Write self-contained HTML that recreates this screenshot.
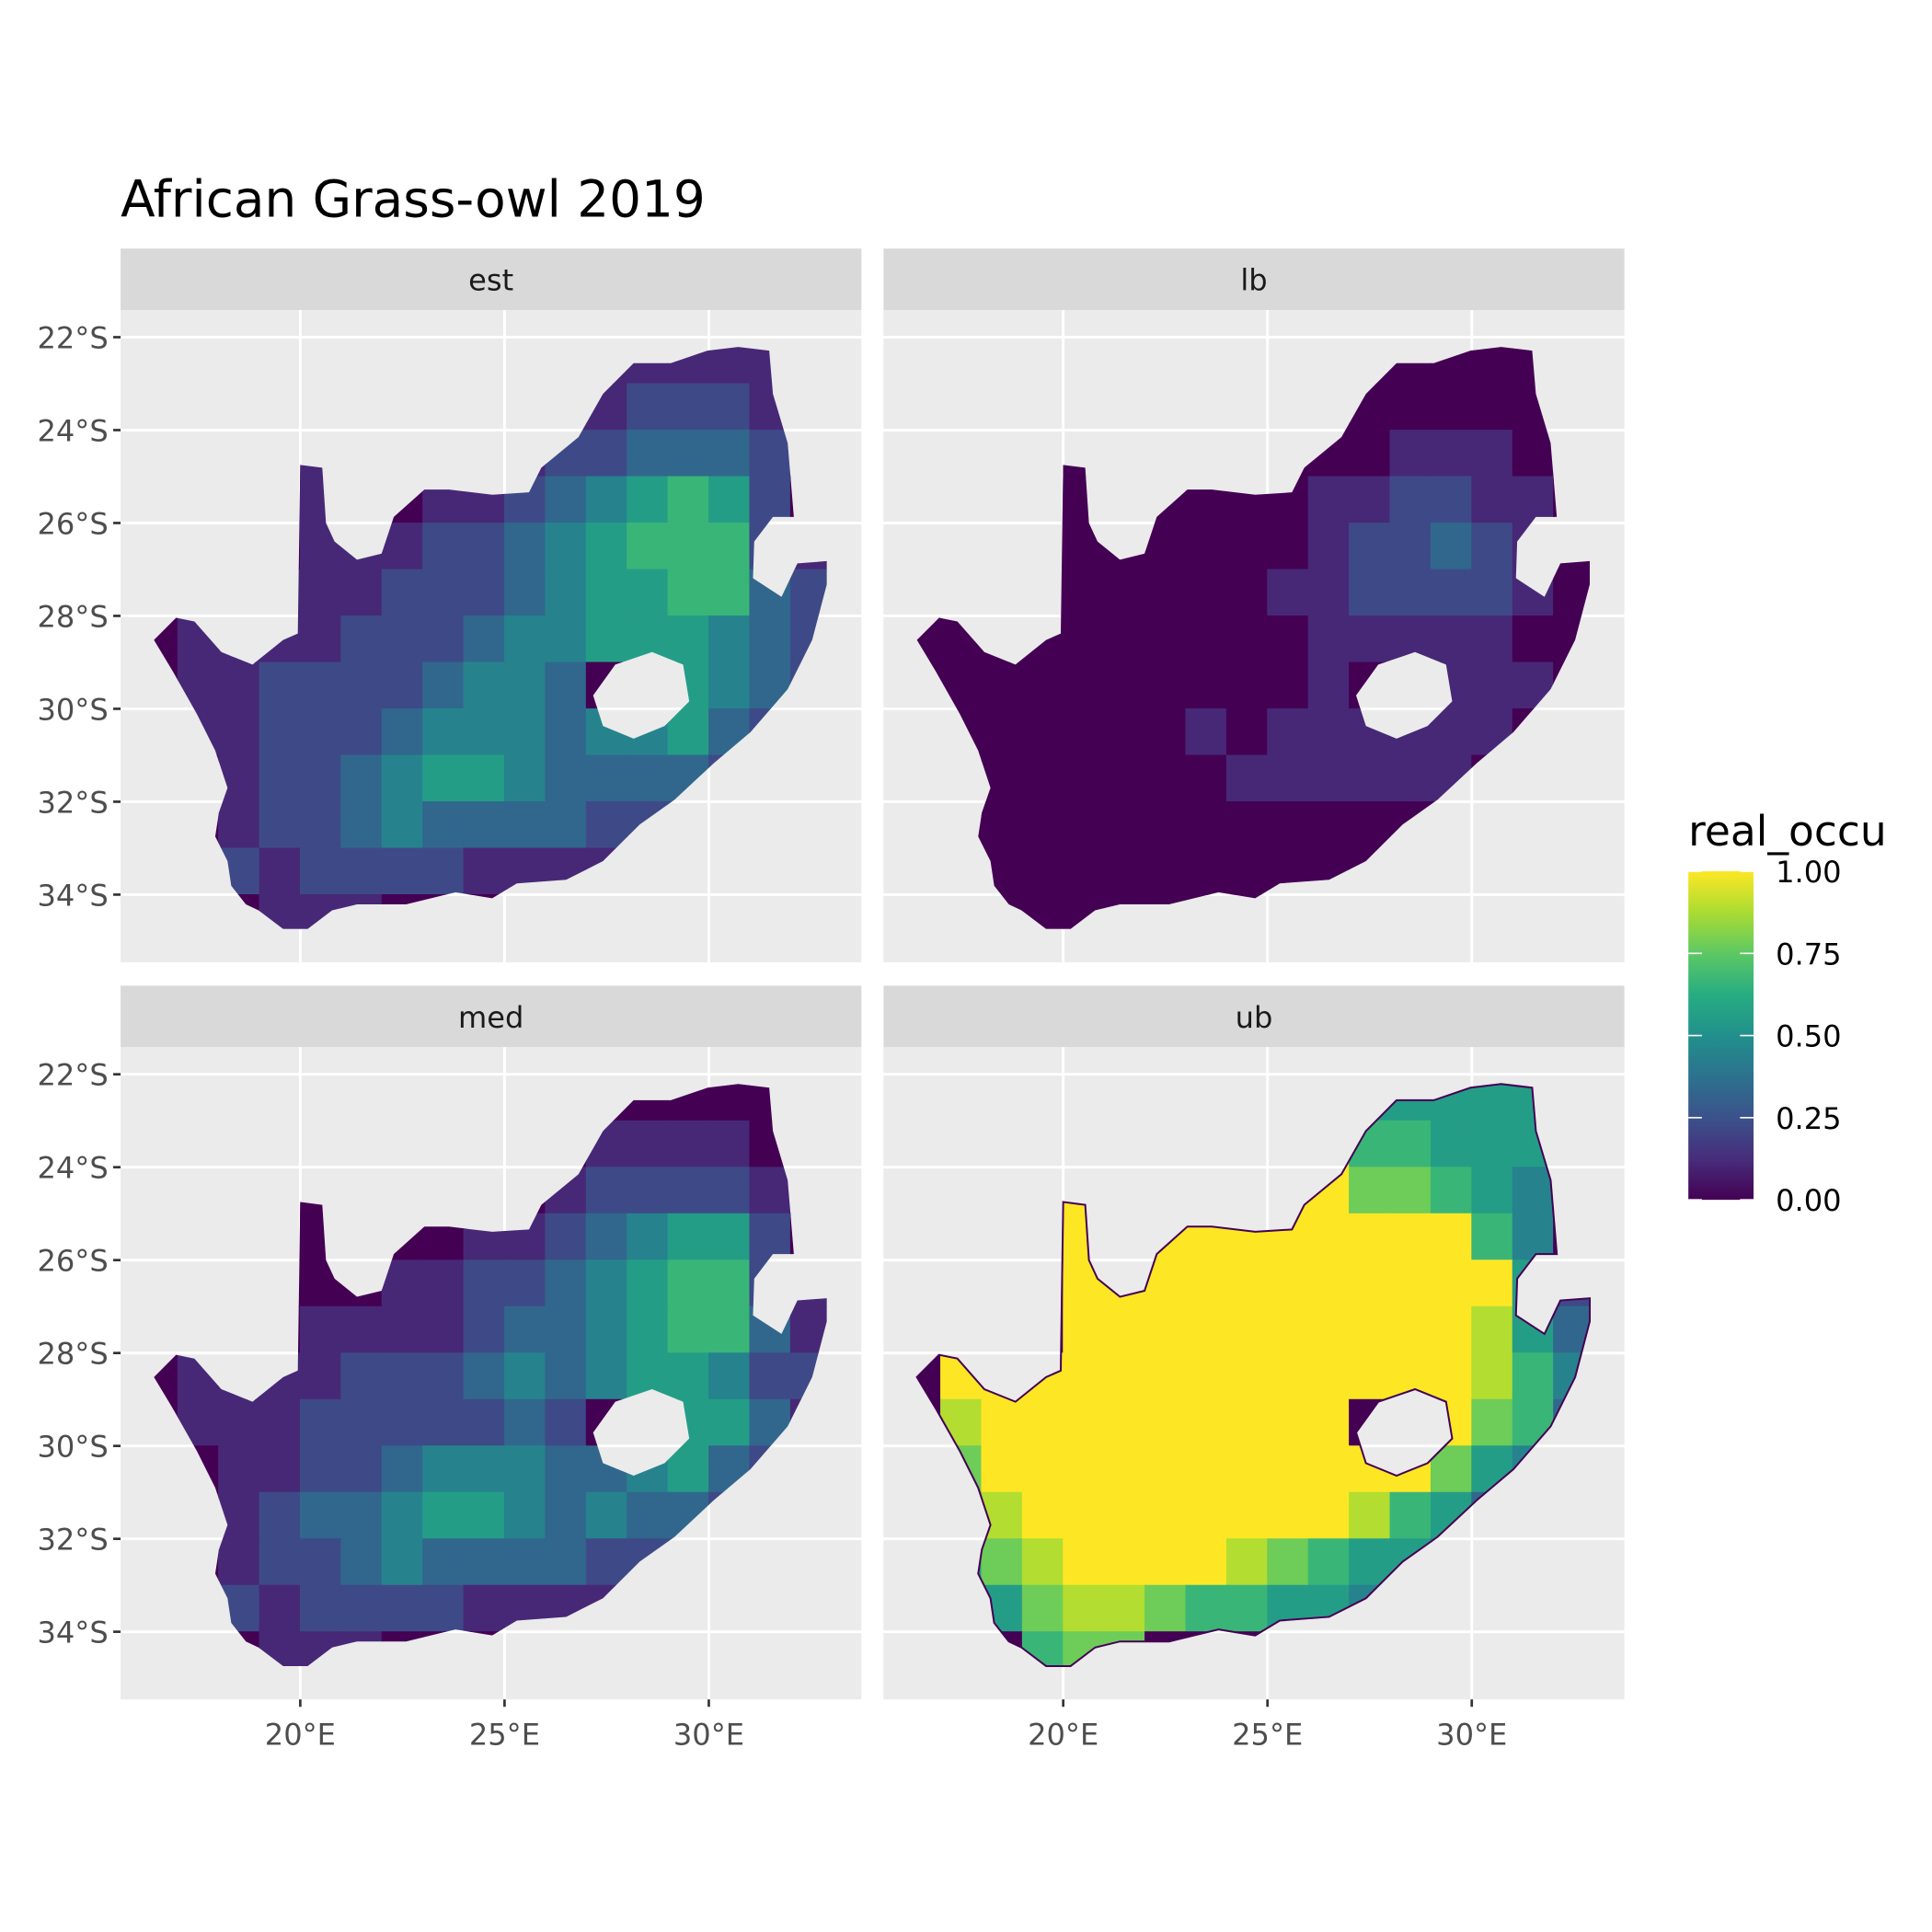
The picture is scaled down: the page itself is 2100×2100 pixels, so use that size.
<!DOCTYPE html>
<html><head><meta charset="utf-8"><style>
html,body{margin:0;padding:0;background:#fff}
svg{display:block}
text{font-family:"DejaVu Sans","Liberation Sans",sans-serif}
</style></head><body>
<svg id="chart" xmlns="http://www.w3.org/2000/svg" width="2100" height="2100" viewBox="0 0 1570 1570">
<rect width="1570" height="1570" fill="#fff"/>
<text x="98" y="176" font-size="41" fill="#000">African Grass-owl 2019</text>
<g id="panels"></g>
<g id="legend">
<text x="1372" y="687" font-size="34" fill="#000">real_occu</text>
<defs><linearGradient id="vg" x1="0" y1="1" x2="0" y2="0">
<stop offset="0" stop-color="#440154"/><stop offset="0.125" stop-color="#472D7B"/><stop offset="0.25" stop-color="#3B528B"/><stop offset="0.375" stop-color="#2C728E"/><stop offset="0.5" stop-color="#21908C"/><stop offset="0.625" stop-color="#27AD81"/><stop offset="0.75" stop-color="#5DC863"/><stop offset="0.875" stop-color="#AADC32"/><stop offset="1" stop-color="#FDE725"/></linearGradient></defs>
<rect x="1372" y="708" width="53" height="267" fill="url(#vg)"/>
<g id="legend-ticks"></g>
</g>
</svg>
<script>
const latTicks=[22,24,26,28,30,32,34];
const lonTicks=[20,25,30];
const legendTicks=[0,0.25,0.5,0.75,1];
const panelNames=["est","lb","med","ub"];
const outlineLon=[16.42,16.96,17.41,18.07,18.83,19.58,19.94,20.0,20.54,20.63,20.84,21.39,21.99,22.29,23.04,23.64,24.7,25.6,25.9,26.81,27.41,28.16,29.07,29.97,30.72,31.48,31.57,31.93,32.08,31.57,31.11,31.08,31.78,32.17,32.89,32.89,32.53,31.93,31.02,30.12,29.16,28.31,27.41,26.51,25.3,24.7,23.8,22.59,21.39,20.78,20.18,19.58,18.98,18.67,18.31,18.22,17.92,18.01,18.22,17.92,17.47,16.87];
const outlineLat=[28.52,28.04,28.12,28.78,29.05,28.52,28.38,24.75,24.81,26.0,26.4,26.79,26.66,25.87,25.28,25.28,25.39,25.34,24.81,24.15,23.22,22.56,22.56,22.29,22.21,22.29,23.22,24.28,25.87,25.87,26.4,27.19,27.59,26.87,26.82,27.32,28.52,29.58,30.5,31.17,31.96,32.49,33.28,33.68,33.76,34.08,33.95,34.21,34.21,34.34,34.74,34.74,34.34,34.21,33.81,33.28,32.75,32.23,31.7,30.9,30.11,29.18];
const lesothoLon=[27.17,27.71,28.61,29.37,29.52,28.92,28.16,27.41];
const lesothoLat=[29.71,29.05,28.78,29.05,29.84,30.37,30.64,30.37];
// grid: rows lat 22..35 (1 deg), cols lon 16..33; digits 0-9 => value/9
const estGrid=["00000000000111110","00000000001122210","00001000012233320","00001001123456520","00001112234566621","00011122234556632","01111222344555432","01122223443005432","01122234443445322","00122345543333200","00122343333222000","00212222111100000","00011100000000000"];
const lbGrid=["00000000000000000","00000000000000000","00000000000011100","00000000001122110","00000000001223210","00000000011222210","00000000001111100","00000000001001110","00000001011111100","00000000111111000","00000000000000000","00000000000000000","00000000000000000"];
const medGrid=["00000000000000000","00000000000111100","00000000001222210","00000000112345520","00000011223456621","00001111233456631","01111222343455422","01112222232005531","00112234443345321","00123345543433200","00122343333222000","00212222111100000","00011100000000000"];
const ubGrid=["00000000000555550","00000000009665550","00009999999776540","00009999999999640","00009999999999952","00009999999999853","09999999999999864","08999999999009763","07999999999997543","06899999999865300","05789999876554000","03578876655400000","00067700000000000"];
const grids=[estGrid,lbGrid,medGrid,ubGrid];
const legendLabels=["0.00","0.25","0.50","0.75","1.00"];

const NS="http://www.w3.org/2000/svg";
function mk(t,a,p){const e=document.createElementNS(NS,t);for(const k in a)e.setAttribute(k,a[k]);p.appendChild(e);return e;}
const stops=[[68,1,84],[71,45,123],[59,82,139],[44,114,142],[33,144,140],[39,173,129],[93,200,99],[170,220,50],[253,231,37]];
function viridis(v){v=Math.max(0,Math.min(1,v));const f=v*8,i=Math.min(7,Math.floor(f)),t=f-i;const a=stops[i],b=stops[i+1];return `rgb(${Math.round(a[0]+(b[0]-a[0])*t)},${Math.round(a[1]+(b[1]-a[1])*t)},${Math.round(a[2]+(b[2]-a[2])*t)})`;}
const panels=document.getElementById('panels');
const W=602,H=530;
const pos=[[98,252],[718,252],[98,851],[718,851]];
panelNames.forEach((nm,pi)=>{
  const px=pos[pi][0],py=pos[pi][1];
  const X=lon=>px+146+(lon-20)*33.2;
  const Y=lat=>py+22+(lat-22)*37.75;
  const g=mk('g',{},panels);
  
  
  const strip=mk('rect',{x:px,y:py-50,width:W,height:50,fill:'#D9D9D9'},g);
  
  
  const st=mk('text',{x:px+W/2,y:py-16,'font-size':24,fill:'#1A1A1A','text-anchor':'middle'},g);
  st.textContent=nm;
  
  
  const bg=mk('rect',{x:px,y:py,width:W,height:H,fill:'#EBEBEB'},g);
  
  
  latTicks.forEach(l=>{const ln=mk('line',{x1:px,x2:px+W,y1:Y(l),y2:Y(l),stroke:'#fff','stroke-width':2.2},g);});
  lonTicks.forEach(l=>{const ln=mk('line',{y1:py,y2:py+H,x1:X(l),x2:X(l),stroke:'#fff','stroke-width':2.2},g);});
  let d='M'+outlineLon.map((l,i)=>X(l).toFixed(1)+','+Y(outlineLat[i]).toFixed(1)).join('L')+'Z';
  d+='M'+lesothoLon.map((l,i)=>X(l).toFixed(1)+','+Y(lesothoLat[i]).toFixed(1)).join('L')+'Z';
  const cp=mk('clipPath',{id:'clip'+pi},g);
  mk('path',{d:d,'clip-rule':'evenodd'},cp);
  const map=mk('g',{'clip-path':`url(#clip${pi})`},g);
  
  
  const grid=grids[pi];
  grid.forEach((row,ri)=>{
    for(let ci=0;ci<row.length;ci++){
      const v=+row[ci]/9;
      const lon=16+ci,lat=22+ri;
      const c=mk('rect',{x:X(lon)-0.3,y:Y(lat)-0.3,width:33.8,height:38.4,fill:viridis(v)},map);
      
      
    }
  });
  if(pi===3){const o=mk('path',{d:d,fill:'none',stroke:'#440154','stroke-width':1.5,'fill-rule':'evenodd'},g);}
  if(pi%2===0){
    latTicks.forEach(l=>{
      const tk=mk('line',{x1:px-6,x2:px,y1:Y(l),y2:Y(l),stroke:'#333','stroke-width':2},g);
      
      const t=mk('text',{x:px-10,y:Y(l)+9,'font-size':24,fill:'#4D4D4D','text-anchor':'end'},g);
      t.textContent=l+'°S';
      
      
    });
  }
  if(pi>=2){
    lonTicks.forEach(l=>{
      const tk=mk('line',{x1:X(l),x2:X(l),y1:py+H,y2:py+H+6,stroke:'#333','stroke-width':2},g);
      
      const t=mk('text',{x:X(l),y:py+H+37,'font-size':24,fill:'#4D4D4D','text-anchor':'middle'},g);
      t.textContent=l+'°E';
      
      
    });
  }
});
const lt=document.getElementById('legend-ticks');
legendTicks.forEach((v,i)=>{
  const y=975-v*267;
  const a=mk('line',{x1:1372,x2:1383,y1:y,y2:y,stroke:'#fff','stroke-width':1.2},lt);
  
  const b=mk('line',{x1:1414,x2:1425,y1:y,y2:y,stroke:'#fff','stroke-width':1.2},lt);
  
  const t=mk('text',{x:1443,y:y+9,'font-size':24,fill:'#000'},lt);
  t.textContent=legendLabels[i];
  
  
});
</script>
</body></html>
